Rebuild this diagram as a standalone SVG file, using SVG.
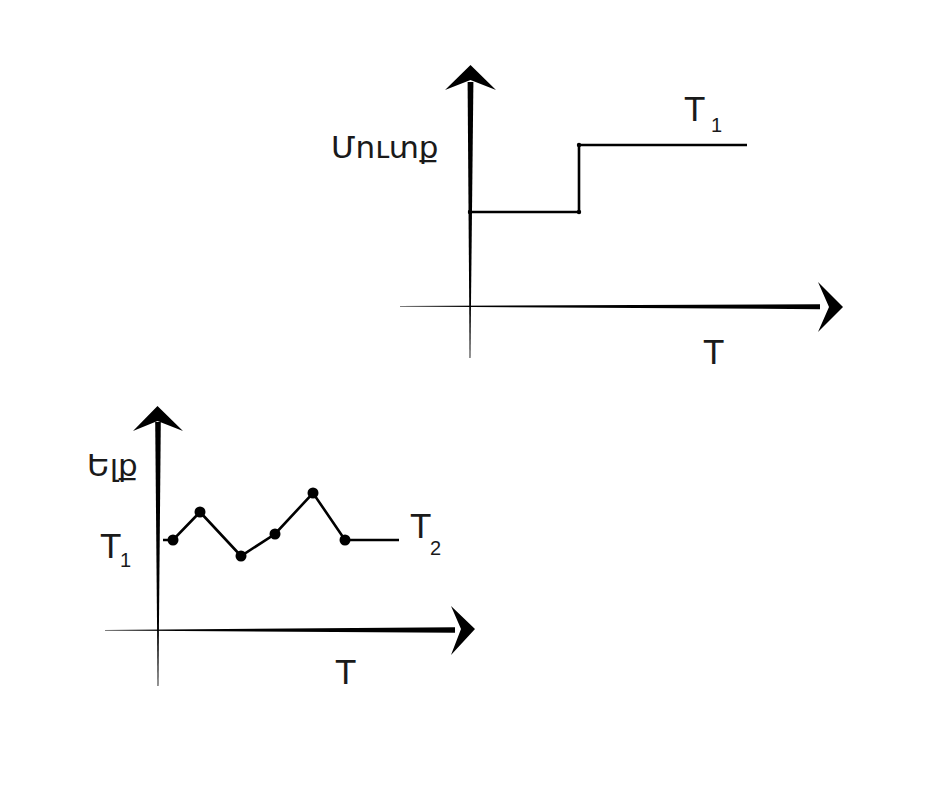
<svg xmlns="http://www.w3.org/2000/svg" width="940" height="788" viewBox="0 0 940 788">
<style>
text{font-family:"Liberation Sans","DejaVu Sans","Noto Sans",sans-serif;fill:#1a1a1a}
.lbl{font-size:35px}
.arm{font-size:31px}
.sub{font-size:20px}
.plot{fill:none;stroke:#000;stroke-width:2.6;stroke-linejoin:miter}
.ax{fill:#000}
</style>
<rect width="940" height="788" fill="#fff"/>
<g id="connectors">
  <polygon class="ax" points="400,306 820,304.3 820,309.2 400,306.6"/>
  <polygon class="ax" points="843,307 818,282 829,307 818,332"/>
  <polygon class="ax" points="469.6,358 467.6,82 473.4,82 470.4,358"/>
  <polygon class="ax" points="470.5,65 445,90 470.5,80 496,90"/>
  <polygon class="ax" points="105,630 455,627.3 455,632.7 105,630.6"/>
  <polygon class="ax" points="475,629 451,606 461,629 451,655"/>
  <polygon class="ax" points="157.6,686 155.2,422 160.8,422 158.4,686"/>
  <polygon class="ax" points="157.5,406 133,431 157.5,421 183,431"/>
</g>
<g id="input-chart">
  <polyline class="plot" points="468,212 579,212 579,145 747,145"/>
  <circle cx="470" cy="212" r="2.2"/>
  <circle cx="579" cy="212" r="2.2"/>
  <circle cx="579" cy="145" r="2.2"/>
  <text class="arm" x="331" y="158">Մուտք</text>
  <text class="lbl" x="684" y="121">T</text>
  <text class="sub" x="711" y="132">1</text>
  <text class="lbl" x="703" y="364">T</text>
</g>
<g id="output-chart">
  <polyline class="plot" points="163,540 173,540 200,512 241,556 275,534 313,493 345,540 399,540"/>
  <circle cx="173" cy="540" r="5.5"/>
  <circle cx="200" cy="512" r="5.5"/>
  <circle cx="241" cy="556" r="5.5"/>
  <circle cx="275" cy="534" r="5.5"/>
  <circle cx="313" cy="493" r="5.5"/>
  <circle cx="345" cy="540" r="5.5"/>
  <text class="arm" x="87" y="476">Ելք</text>
  <text class="lbl" x="100" y="558">T</text>
  <text class="sub" x="120" y="567">1</text>
  <text class="lbl" x="410" y="538">T</text>
  <text class="sub" x="430" y="555">2</text>
  <text class="lbl" x="335" y="684">T</text>
</g>
</svg>
